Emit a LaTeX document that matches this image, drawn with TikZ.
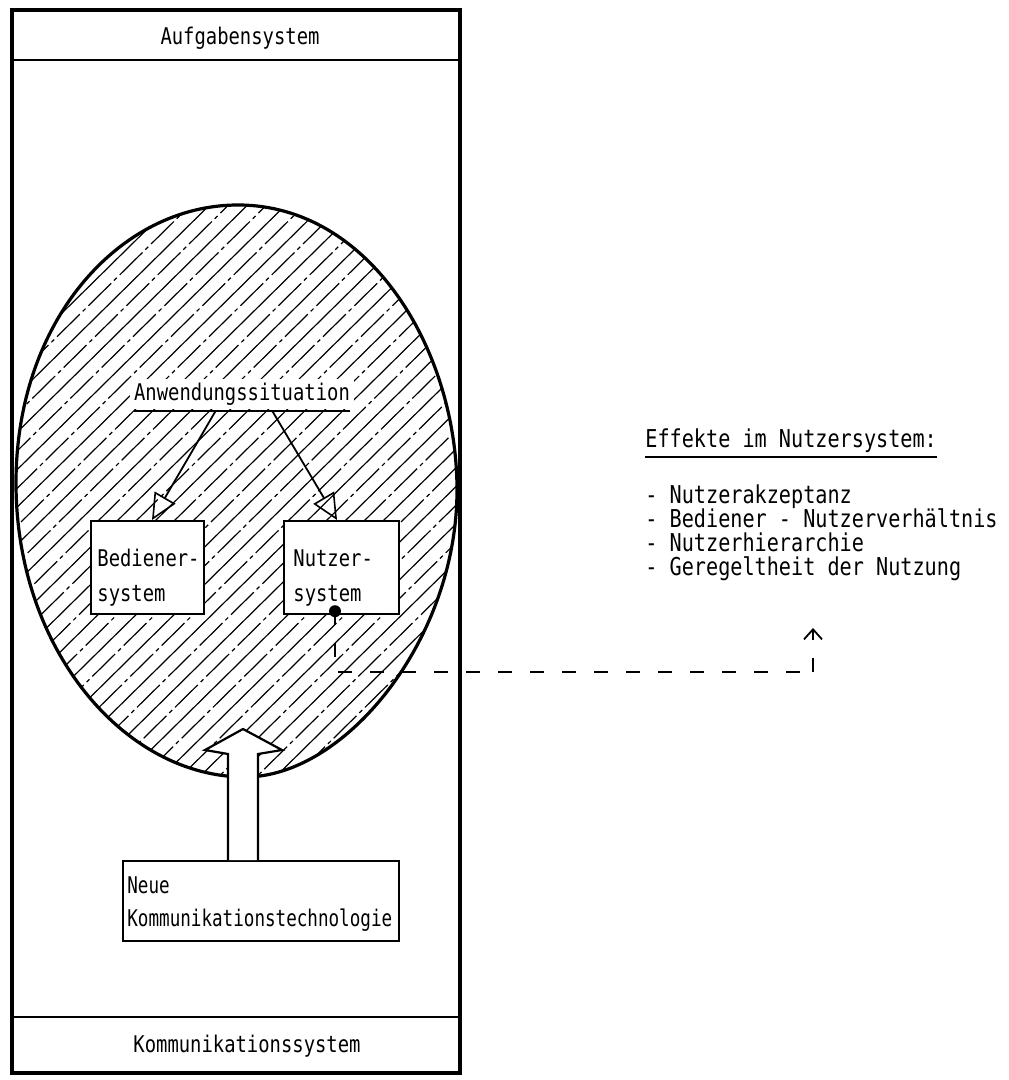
\documentclass[tikz,border=0pt]{standalone}
\usepackage{fontspec}
\newfontfamily\mono[FakeStretch=0.82]{DejaVu Sans Mono}
\newfontfamily\mononarrow[FakeStretch=0.765]{DejaVu Sans Mono}
\usetikzlibrary{arrows.meta,calc}

% outline of the application area (egg shape)
\def\eggpath{(16,483) .. controls (16,320) and (120,205) .. (238,205)
  .. controls (370,205) and (457,350) .. (457,490)
  .. controls (457,640) and (345,777) .. (245,777)
  .. controls (125,777) and (16,650) .. (16,483) -- cycle}

\begin{document}
\begin{tikzpicture}[x=0.5pt,y=-0.5pt,
  lbl/.style={font=\mono\fontsize{11.5}{14}\selectfont, inner sep=0pt},
  lblnarrow/.style={font=\mononarrow\fontsize{11.5}{14}\selectfont, inner sep=0pt},
  note/.style={font=\mono\fontsize{12.3}{14}\selectfont, inner sep=0pt, anchor=base west},
  box/.style={draw, line width=1.1pt, fill=white, inner sep=0pt},
  hatchA/.style={line width=0.6pt},
  hatchB/.style={line width=0.6pt, dash pattern=on 16pt off 2pt on 2pt off 2pt},
  lead/.style={line width=0.8pt, dash pattern=on 7pt off 9pt},
  feed/.style={line width=0.9pt, -{Triangle[open,length=13pt,width=12pt,line width=0.8pt]}},
  block/.style={line width=1.1pt, fill=white, line join=miter}
]
\useasboundingbox (0,0) rectangle (1008,1080);

% outer system frame with its two bands
\draw[line width=2pt] (12,10) rectangle (460,1073);
\draw[line width=1.1pt] (12,60) -- (460,60);
\draw[line width=1.1pt] (12,1017) -- (460,1017);
\node[lbl, anchor=base] (aufg) at (240,45) {Aufgabensystem};
\node[lbl, anchor=base] (kommsys) at (247,1052) {Kommunikationssystem};

% hatched application area
\begin{scope}
  \clip \eggpath;
  \foreach \i in {0,...,60} {
    \pgfmathsetmacro\c{-660+19*\i}
    \ifodd\i
      \draw[hatchB] (\c,800) -- ++(700,-690);
    \else
      \draw[hatchA] (\c,800) -- ++(700,-690);
    \fi
  }
\end{scope}
\draw[line width=1.6pt] \eggpath;

% application situation and its two subsystems
\node[lbl, anchor=base, fill=white, inner sep=2pt] (anw) at (242,400) {Anwendungssituation};
\coordinate (ulA) at ($(anw.base west)+(4,11)$);
\coordinate (ulB) at ($(anw.base east)+(-4,11)$);
\draw[line width=1pt] (ulA) -- (ulB);

\node[box, anchor=north west, minimum width=56.5pt, minimum height=46.5pt] (bed) at (90,520) {};
\node[box, anchor=north west, minimum width=57.5pt, minimum height=46.5pt] (nutz) at (283,520) {};
\node[lbl, anchor=base west] (bedA) at (97,566) {Bediener-};
\node[lbl, anchor=base west] (bedB) at (97,601) {system};
\node[lbl, anchor=base west] (nutA) at (293,566) {Nutzer-};
\node[lbl, anchor=base west] (nutB) at (293,601) {system};

\draw[feed] ($(ulA)!0.378!(ulB)$) -- ($(bed.north west)+(62,0)$);
\draw[feed] ($(ulA)!0.64!(ulB)$) -- ($(nutz.north west)+(54,0)$);

% new communication technology feeding in
\node[box, anchor=north west, minimum width=138pt, minimum height=40pt] (neue) at (122,860) {};
\node[lblnarrow, anchor=base west] (neueA) at (127,893) {Neue};
\node[lblnarrow, anchor=base west] (neueB) at (127,926) {Kommunikationstechnologie};
\draw[block] ($(neue.north west)+(106,0)$) -- ++(0,-106) -- ++(-23,-4)
  -- ++(38,-21) -- ++(39,21) -- ++(-24,4) -- ++(0,106);

% effects in the user system
\node[note] (eff) at (645,447) {Effekte im Nutzersystem:};
\draw[line width=0.9pt] ($(eff.base west)+(0,10)$) -- ($(eff.base east)+(0,10)$);
\node[note] (e1) at (645,503) {- Nutzerakzeptanz};
\node[note] (e2) at (645,527) {- Bediener - Nutzerverhältnis};
\node[note] (e3) at (645,551) {- Nutzerhierarchie};
\node[note] (e4) at (645,575) {- Geregeltheit der Nutzung};

% link from the user system to its effects
\node[circle, fill, inner sep=0pt, minimum size=6pt] (dot) at ($(nutz.south west)+(52,-4)$) {};
\coordinate (lowrun) at (813,672);
\coordinate (effend) at (813,628);
\draw[lead] (dot.center) -- (dot.center |- lowrun) -- (lowrun);
\draw[lead, -{Straight Barb[length=5pt,width=9pt,line width=0.9pt]}] (lowrun) -- (effend);
\end{tikzpicture}
\end{document}
